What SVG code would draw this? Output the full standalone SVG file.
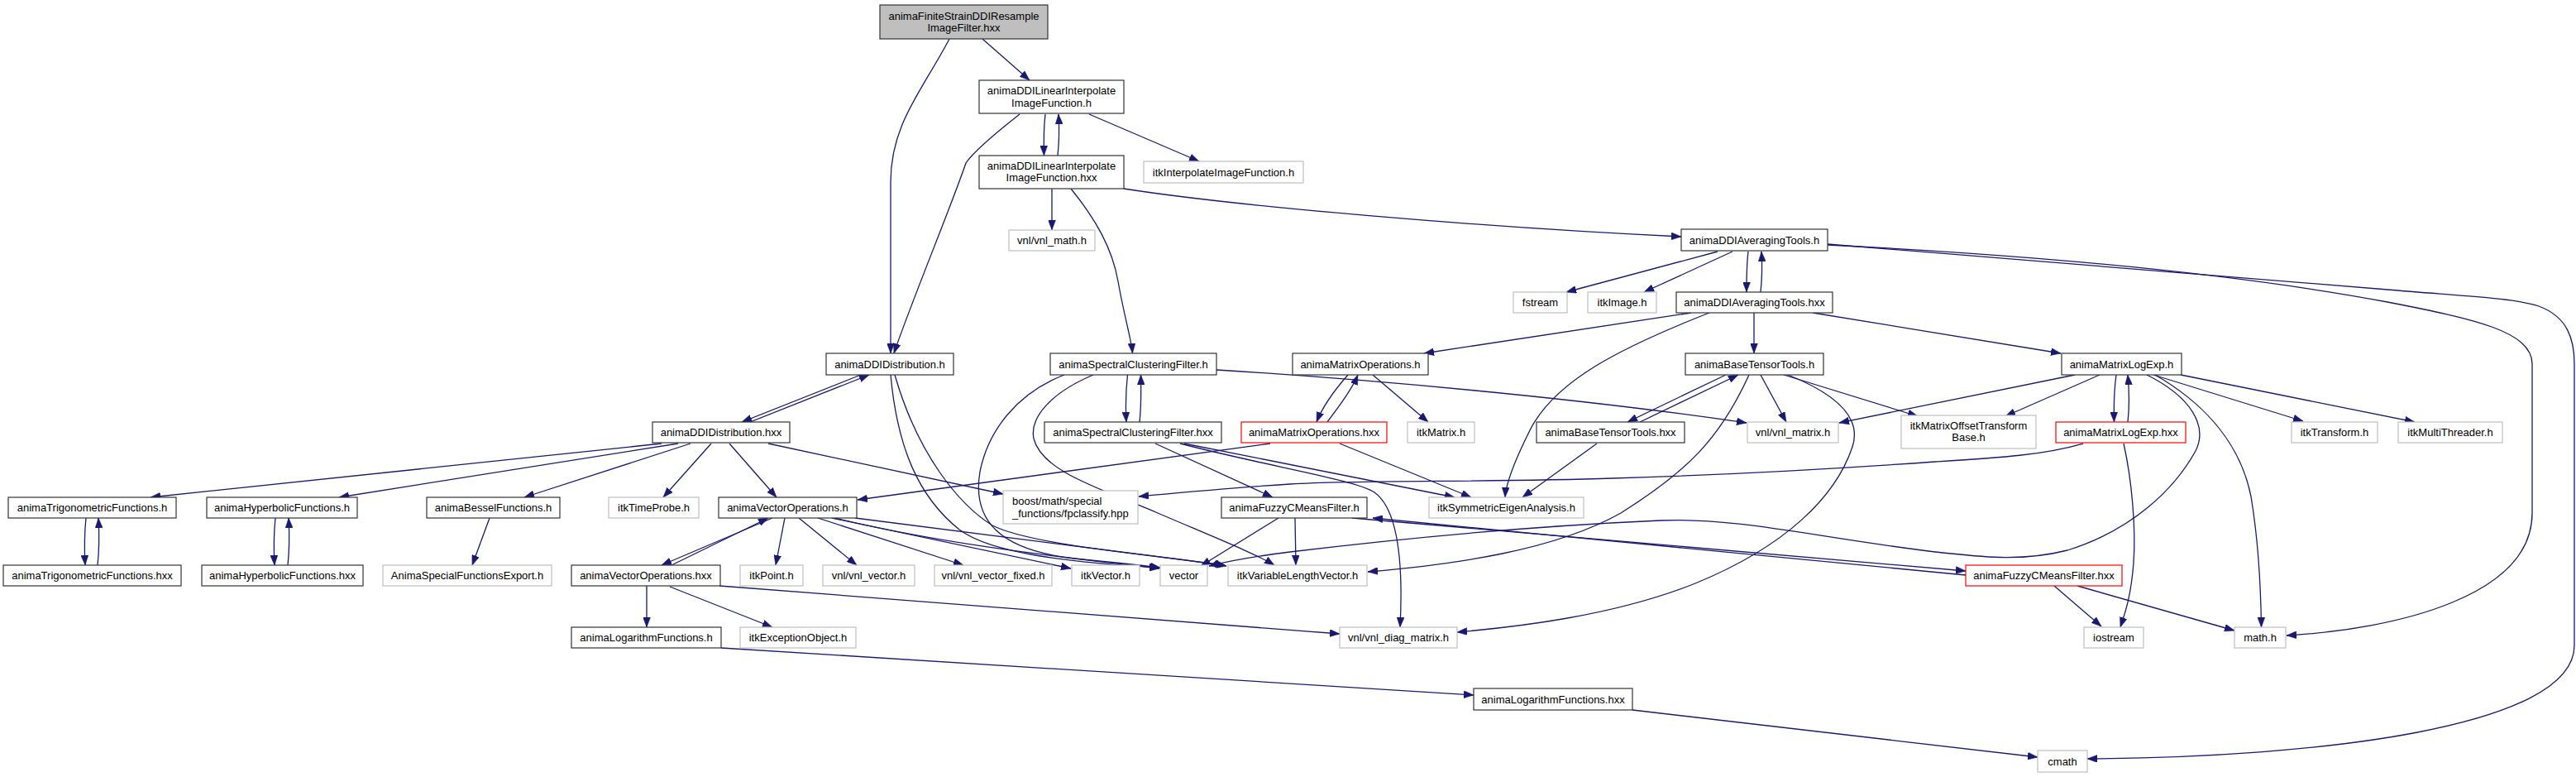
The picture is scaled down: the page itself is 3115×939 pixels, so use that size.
<svg xmlns="http://www.w3.org/2000/svg" width="3115" height="939" viewBox="0 0 3115 939">
<style>
.n rect{fill:#fff;stroke:#333;stroke-width:1.2}
.n.g rect{stroke:#bfbfbf}
.n.r rect{stroke:#ff0000}
.n.root rect{fill:#bfbfbf}
.n text{font-family:"Liberation Sans",Arial,sans-serif;font-size:13px;fill:#000;text-anchor:middle}
#edges path{fill:none;stroke:#191970;stroke-width:1.3;marker-end:url(#ah)}
</style>
<defs>
<marker id="ah" markerUnits="userSpaceOnUse" viewBox="0 0 12 9" markerWidth="12" markerHeight="9" refX="12" refY="4.5" orient="auto">
<path d="M0,0 L12,4.5 L0,9 z" fill="#191970" stroke="#191970" stroke-width="0.5"/>
</marker>
</defs>
<rect width="3115" height="939" fill="#fff"/>
<g id="edges">
<path d="M1188,47 L1245,97"/>
<path d="M1148,47 C1115,110 1077,150 1077,220 L1077,427"/>
<path d="M1233,138 C1205,160 1178,182 1168,197 C1150,250 1100,370 1081,427"/>
<path d="M1264,138 C1262,155 1262,170 1262.5,188"/>
<path d="M1279,188 C1281,170 1281,155 1280,138"/>
<path d="M1317,138 L1450,195"/>
<path d="M1272,228 L1272,278"/>
<path d="M1295,228 C1325,265 1345,300 1352,340 C1360,385 1368,410 1369.5,427"/>
<path d="M1359,228 C1500,250 1800,275 2033,286"/>
<path d="M2077,304 L1894,353"/>
<path d="M2095,304 L1988,353"/>
<path d="M2114,304 C2112,320 2112,335 2112,353"/>
<path d="M2129,353 C2131,335 2131,320 2130,304"/>
<path d="M2210,295 L2887,350 C2980,358 3040,360 3070,370 C3105,383 3113,410 3113,440 L3113,780 C3113,880 2800,915 2524,917"/>
<path d="M2210,296 C2450,308 2700,330 2887,365 C2990,385 3062,400 3062,440 L3062,620 C3062,720 2900,760 2765,768"/>
<path d="M2045,378 L1722,427"/>
<path d="M2067,378 C1960,420 1880,460 1850,520 C1830,560 1821,585 1820,601"/>
<path d="M2121,378 L2121,427"/>
<path d="M2192,378 L2492,427"/>
<path d="M1041,453 L897,510"/>
<path d="M907,510 L1051,453"/>
<path d="M1077,453 C1085,540 1110,600 1160,640 C1200,670 1300,680 1402,686"/>
<path d="M1082,453 C1110,550 1160,610 1200,635 C1250,660 1400,670 1483,684"/>
<path d="M1363.5,453 C1361,475 1361,492 1362,510"/>
<path d="M1378,510 C1380,492 1380,475 1379.5,453"/>
<path d="M1471,447 C1650,458 1900,480 2112,511"/>
<path d="M1287,453 C1230,475 1195,520 1185,570 C1175,630 1210,665 1300,675 C1350,680 1380,683 1403,686"/>
<path d="M1322,453 C1270,475 1245,505 1250,530 C1260,570 1330,590 1400,620 C1470,650 1520,670 1541,683"/>
<path d="M800,536 L182,601"/>
<path d="M820,536 L410,601"/>
<path d="M835,536 L634,601"/>
<path d="M860,536 L802,601"/>
<path d="M882,536 L939,601"/>
<path d="M929,536 L1213,597"/>
<path d="M1536,536 L1037,604"/>
<path d="M1397,536 L1539,601"/>
<path d="M1432,536 L1759,601"/>
<path d="M1427,536 C1540,565 1640,580 1662,595 C1690,615 1697,680 1693,758"/>
<path d="M1630,453 C1615,470 1600,490 1592,510"/>
<path d="M1605,510 C1620,490 1635,470 1642,453"/>
<path d="M1660,453 L1727,510"/>
<path d="M1620,536 L1779,601"/>
<path d="M2087,453 L1968,510"/>
<path d="M1983,510 L2102,453"/>
<path d="M2129,453 L2160,510"/>
<path d="M2157,453 L2319,503"/>
<path d="M2115,453 C2080,530 2040,570 1960,620 C1880,665 1760,682 1654,691"/>
<path d="M2162,453 C2230,480 2250,510 2240,540 C2220,600 2160,660 2050,705 C1950,745 1830,758 1762,764"/>
<path d="M1931,536 L1841,601"/>
<path d="M2509,453 L2224,511"/>
<path d="M2539,453 L2425,503"/>
<path d="M2559,453 C2556,475 2556,492 2556.5,510"/>
<path d="M2573,510 C2575,492 2575,475 2573,453"/>
<path d="M2596,453 C2650,480 2670,515 2655,545 C2630,590 2580,640 2500,665 C2440,680 2390,672 2340,667 C2200,650 2100,625 2008,629 C1850,636 1700,650 1560,667 C1520,672 1490,677 1462,684"/>
<path d="M2606,453 C2670,490 2710,540 2722,600 C2732,660 2734,720 2734.5,758"/>
<path d="M2604,453 L2785,509"/>
<path d="M2637,453 L2920,510"/>
<path d="M2519,536 C2470,550 2420,553 2340,558 C2200,568 2050,575 1950,578 C1800,583 1650,580 1560,585 C1480,590 1420,596 1377,600"/>
<path d="M2568,536 C2578,580 2583,640 2580,680 C2577,720 2570,740 2564,758"/>
<path d="M1546,626 L1452,684"/>
<path d="M1566,626 L1567,683"/>
<path d="M1635,626 L2377,690"/>
<path d="M2377,695 L1660,626"/>
<path d="M2484,708 L2541,757"/>
<path d="M2512,708 L2702,762"/>
<path d="M934,626 L800,683"/>
<path d="M812,683 L929,626"/>
<path d="M949,626 L938,683"/>
<path d="M966,626 L1036,683"/>
<path d="M989,626 L1165,683"/>
<path d="M1006,626 L1295,687"/>
<path d="M1009,626 C1150,660 1300,675 1402,687"/>
<path d="M1034,626 L1481,683"/>
<path d="M782,708 L782,758"/>
<path d="M810,709 L934,758"/>
<path d="M870,708 L1620,766"/>
<path d="M872,783 L1782,840"/>
<path d="M1974,858 L2464,915"/>
<path d="M104,626 C102,645 102,665 103,683"/>
<path d="M118,683 C120,665 120,645 119,626"/>
<path d="M333,626 C331,645 331,665 332,683"/>
<path d="M348,683 C350,665 350,645 349,626"/>
<path d="M592,626 L571,683"/>
</g>
<g id="n_root" class="n root"><rect x="1064" y="6" width="203" height="41"/><text x="1165.5" y="23.5">animaFiniteStrainDDIResample</text><text x="1165.5" y="37.5">ImageFilter.hxx</text></g>
<g id="n_lin_h" class="n"><rect x="1184" y="97" width="175" height="40"/><text x="1271.5" y="113.5">animaDDILinearInterpolate</text><text x="1271.5" y="128.5">ImageFunction.h</text></g>
<g id="n_lin_hxx" class="n"><rect x="1184" y="188" width="175" height="40"/><text x="1271.5" y="204.5">animaDDILinearInterpolate</text><text x="1271.5" y="218.5">ImageFunction.hxx</text></g>
<g id="n_itkInterp" class="n g"><rect x="1383" y="195" width="193" height="26"/><text x="1479.5" y="212.5">itkInterpolateImageFunction.h</text></g>
<g id="n_vnlmath" class="n g"><rect x="1220" y="278" width="104" height="25"/><text x="1272" y="295">vnl/vnl_math.h</text></g>
<g id="n_avg_h" class="n"><rect x="2033" y="277" width="177" height="26"/><text x="2121.5" y="294.5">animaDDIAveragingTools.h</text></g>
<g id="n_fstream" class="n g"><rect x="1830" y="353" width="65" height="25"/><text x="1862.5" y="370">fstream</text></g>
<g id="n_itkImage" class="n g"><rect x="1920" y="353" width="83" height="25"/><text x="1961.5" y="370">itkImage.h</text></g>
<g id="n_avg_hxx" class="n"><rect x="2027" y="353" width="189" height="25"/><text x="2121.5" y="370">animaDDIAveragingTools.hxx</text></g>
<g id="n_dist_h" class="n"><rect x="999" y="427" width="154" height="26"/><text x="1076" y="444.5">animaDDIDistribution.h</text></g>
<g id="n_spec_h" class="n"><rect x="1270" y="427" width="201" height="26"/><text x="1370.5" y="444.5">animaSpectralClusteringFilter.h</text></g>
<g id="n_matops_h" class="n"><rect x="1563" y="427" width="164" height="26"/><text x="1645" y="444.5">animaMatrixOperations.h</text></g>
<g id="n_btt_h" class="n"><rect x="2038" y="427" width="167" height="26"/><text x="2121.5" y="444.5">animaBaseTensorTools.h</text></g>
<g id="n_mle_h" class="n"><rect x="2493" y="427" width="145" height="26"/><text x="2565.5" y="444.5">animaMatrixLogExp.h</text></g>
<g id="n_dist_hxx" class="n"><rect x="789" y="510" width="166" height="25"/><text x="872" y="527">animaDDIDistribution.hxx</text></g>
<g id="n_spec_hxx" class="n"><rect x="1263" y="510" width="214" height="25"/><text x="1370" y="527">animaSpectralClusteringFilter.hxx</text></g>
<g id="n_matops_hxx" class="n r"><rect x="1501" y="510" width="176" height="25"/><text x="1589" y="527">animaMatrixOperations.hxx</text></g>
<g id="n_itkMatrix" class="n g"><rect x="1702" y="510" width="81" height="25"/><text x="1742.5" y="527">itkMatrix.h</text></g>
<g id="n_btt_hxx" class="n"><rect x="1858" y="510" width="179" height="25"/><text x="1947.5" y="527">animaBaseTensorTools.hxx</text></g>
<g id="n_vnlmatrix" class="n g"><rect x="2113" y="510" width="110" height="25"/><text x="2168" y="527">vnl/vnl_matrix.h</text></g>
<g id="n_itkMOTB" class="n g"><rect x="2299" y="502" width="163" height="40"/><text x="2380.5" y="518.5">itkMatrixOffsetTransform</text><text x="2380.5" y="532.5">Base.h</text></g>
<g id="n_mle_hxx" class="n r"><rect x="2486" y="510" width="157" height="25"/><text x="2564.5" y="527">animaMatrixLogExp.hxx</text></g>
<g id="n_itkTransform" class="n g"><rect x="2771" y="510" width="104" height="25"/><text x="2823" y="527">itkTransform.h</text></g>
<g id="n_itkMT" class="n g"><rect x="2900" y="510" width="126" height="25"/><text x="2963" y="527">itkMultiThreader.h</text></g>
<g id="n_trig_h" class="n"><rect x="10" y="601" width="203" height="25"/><text x="111.5" y="618">animaTrigonometricFunctions.h</text></g>
<g id="n_hyp_h" class="n"><rect x="250" y="601" width="182" height="25"/><text x="341" y="618">animaHyperbolicFunctions.h</text></g>
<g id="n_bessel_h" class="n"><rect x="516" y="601" width="161" height="25"/><text x="596.5" y="618">animaBesselFunctions.h</text></g>
<g id="n_timeprobe" class="n g"><rect x="736" y="601" width="109" height="25"/><text x="790.5" y="618">itkTimeProbe.h</text></g>
<g id="n_vecops_h" class="n"><rect x="869" y="601" width="167" height="25"/><text x="952.5" y="618">animaVectorOperations.h</text></g>
<g id="n_boost" class="n g"><rect x="1213" y="593" width="163" height="40"/><text x="1224" y="609.5" style="text-anchor:start">boost/math/special</text><text x="1224" y="624.5" style="text-anchor:start">_functions/fpclassify.hpp</text></g>
<g id="n_fuzzy_h" class="n"><rect x="1477" y="601" width="176" height="25"/><text x="1565" y="618">animaFuzzyCMeansFilter.h</text></g>
<g id="n_symeig" class="n g"><rect x="1728" y="601" width="187" height="25"/><text x="1821.5" y="618">itkSymmetricEigenAnalysis.h</text></g>
<g id="n_trig_hxx" class="n"><rect x="4" y="683" width="215" height="25"/><text x="111.5" y="700">animaTrigonometricFunctions.hxx</text></g>
<g id="n_hyp_hxx" class="n"><rect x="244" y="683" width="195" height="25"/><text x="341.5" y="700">animaHyperbolicFunctions.hxx</text></g>
<g id="n_specexp" class="n g"><rect x="463" y="683" width="204" height="25"/><text x="565" y="700">AnimaSpecialFunctionsExport.h</text></g>
<g id="n_vecops_hxx" class="n"><rect x="691" y="683" width="180" height="25"/><text x="781" y="700">animaVectorOperations.hxx</text></g>
<g id="n_itkPoint" class="n g"><rect x="895" y="683" width="76" height="25"/><text x="933" y="700">itkPoint.h</text></g>
<g id="n_vnlvector" class="n g"><rect x="995" y="683" width="111" height="25"/><text x="1050.5" y="700">vnl/vnl_vector.h</text></g>
<g id="n_vnlvecfixed" class="n g"><rect x="1130" y="683" width="142" height="25"/><text x="1201" y="700">vnl/vnl_vector_fixed.h</text></g>
<g id="n_itkVector" class="n g"><rect x="1296" y="683" width="82" height="25"/><text x="1337" y="700">itkVector.h</text></g>
<g id="n_vector" class="n g"><rect x="1403" y="683" width="57" height="25"/><text x="1431.5" y="700">vector</text></g>
<g id="n_itkVLV" class="n g"><rect x="1485" y="683" width="168" height="25"/><text x="1569" y="700">itkVariableLengthVector.h</text></g>
<g id="n_fuzzy_hxx" class="n r"><rect x="2377" y="683" width="189" height="25"/><text x="2471.5" y="700">animaFuzzyCMeansFilter.hxx</text></g>
<g id="n_log_h" class="n"><rect x="691" y="758" width="181" height="25"/><text x="781.5" y="775">animaLogarithmFunctions.h</text></g>
<g id="n_itkExc" class="n g"><rect x="895" y="758" width="140" height="25"/><text x="965" y="775">itkExceptionObject.h</text></g>
<g id="n_diag" class="n g"><rect x="1620" y="758" width="142" height="25"/><text x="1691" y="775">vnl/vnl_diag_matrix.h</text></g>
<g id="n_iostream" class="n g"><rect x="2520" y="758" width="72" height="25"/><text x="2556" y="775">iostream</text></g>
<g id="n_math" class="n g"><rect x="2702" y="758" width="62" height="25"/><text x="2733" y="775">math.h</text></g>
<g id="n_log_hxx" class="n"><rect x="1782" y="832" width="192" height="26"/><text x="1878" y="849.5">animaLogarithmFunctions.hxx</text></g>
<g id="n_cmath" class="n g"><rect x="2464" y="907" width="60" height="26"/><text x="2494" y="924.5">cmath</text></g>
</svg>
